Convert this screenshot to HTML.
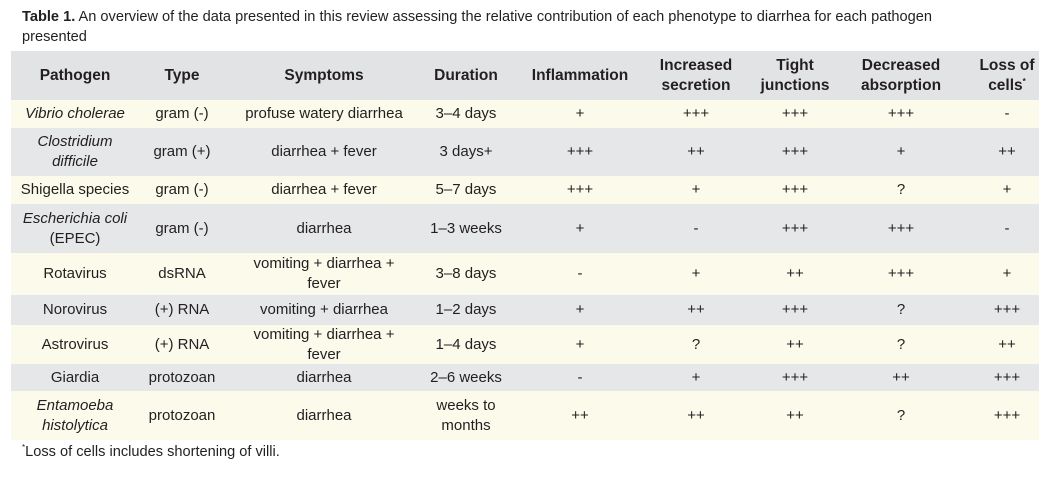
<!DOCTYPE html>
<html><head><meta charset="utf-8">
<style>
body{margin:0;width:1057px;height:479px;background:#fff;position:relative;overflow:hidden;font-family:"Liberation Sans",sans-serif;color:#231f20}
#cap{position:absolute;left:22px;top:7px;width:975px;font-size:14.6px;line-height:20px}
.bg{position:absolute;left:11px;width:1028px}
.c{position:absolute;transform:translate(-50%,-50%);text-align:center;font-size:15px;line-height:20px;white-space:nowrap}
.h{font-weight:bold;font-size:15.5px;line-height:20px}
sup{font-size:8px;line-height:0;vertical-align:6px}
#foot{position:absolute;left:22px;top:444px;font-size:14.6px}
</style></head><body>
<div id="cap"><b>Table 1.</b> An overview of the data presented in this review assessing the relative contribution of each phenotype to diarrhea for each pathogen presented</div>
<div id="tbl"></div>
<div id="foot"><sup>*</sup>Loss of cells includes shortening of villi.</div>
<script>
const colX=[75,182,324,466,580,696,795,901,1007];
const headers=["Pathogen","Type","Symptoms","Duration","Inflammation","Increased<br>secretion","Tight<br>junctions","Decreased<br>absorption","Loss of<br>cells<sup>*</sup>"];
const rowTop=[100,128,176,204,253,295,325,364,391];
const rowBot=[128,176,204,253,295,325,364,391,440];
const rows=[
["<i>Vibrio cholerae</i>","gram (-)","profuse watery diarrhea","3–4 days","+","+++","+++","+++","-"],
["<i>Clostridium<br>difficile</i>","gram (+)","diarrhea + fever","3 days+","+++","++","+++","+","++"],
["Shigella species","gram (-)","diarrhea + fever","5–7 days","+++","+","+++","?","+"],
["<i>Escherichia coli</i><br>(EPEC)","gram (-)","diarrhea","1–3 weeks","+","-","+++","+++","-"],
["Rotavirus","dsRNA","vomiting + diarrhea +<br>fever","3–8 days","-","+","++","+++","+"],
["Norovirus","(+) RNA","vomiting + diarrhea","1–2 days","+","++","+++","?","+++"],
["Astrovirus","(+) RNA","vomiting + diarrhea +<br>fever","1–4 days","+","?","++","?","++"],
["Giardia","protozoan","diarrhea","2–6 weeks","-","+","+++","++","+++"],
["<i>Entamoeba<br>histolytica</i>","protozoan","diarrhea","weeks to<br>months","++","++","++","?","+++"]
];
const t=document.getElementById('tbl');
const hb=document.createElement('div');hb.className='bg';hb.style.top='51px';hb.style.height='49px';hb.style.background='#e2e3e5';


t.appendChild(hb);
headers.forEach((h,i)=>{const d=document.createElement('div');d.className='c h';d.innerHTML=h;d.style.left=colX[i]+'px';d.style.top='76px';


t.appendChild(d);});
rows.forEach((r,j)=>{const b=document.createElement('div');b.className='bg';b.style.top=rowTop[j]+'px';b.style.height=(rowBot[j]-rowTop[j])+'px';b.style.background=j%2?'#e6e7e9':'#fcfaeb';


t.appendChild(b);
const cy=(rowTop[j]+rowBot[j])/2;
r.forEach((v,i)=>{const d=document.createElement('div');d.className='c';d.innerHTML=v;d.style.left=colX[i]+'px';d.style.top=cy+'px';


t.appendChild(d);});});
</script>
</body></html>
